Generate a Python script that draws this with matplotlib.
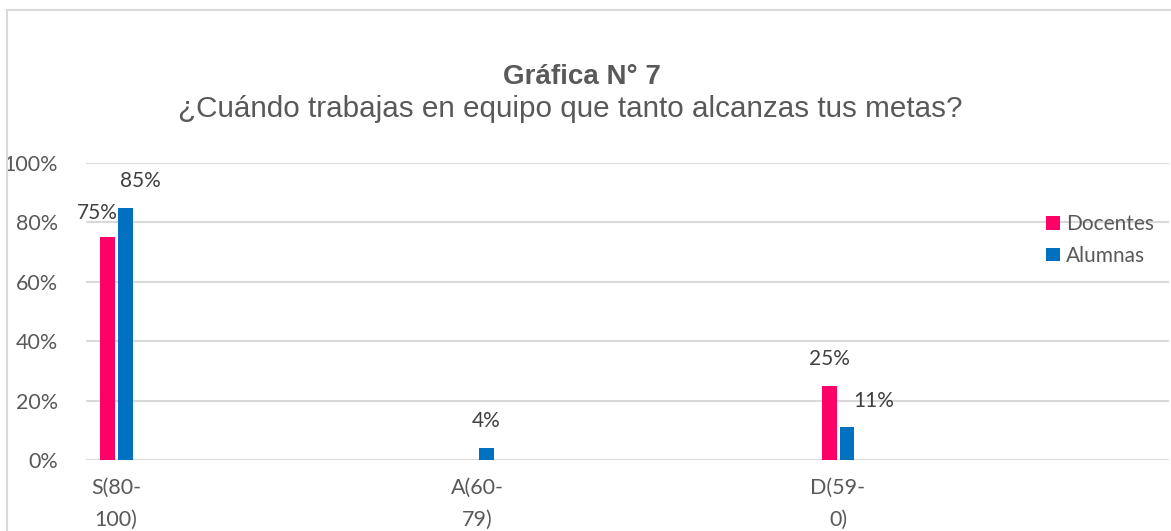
import matplotlib
matplotlib.use("Agg")
import matplotlib.pyplot as plt
import matplotlib.patches as patches
import numpy as np

categories = ["S(80-\n100)", "A(60-\n79)", "D(59-\n0)"]
docentes = [75, 0, 25]
alumnas = [85, 4, 11]
doc_labels = ["75%", None, "25%"]
alu_labels = ["85%", "4%", "11%"]

PINK = "#FF0066"
BLUE = "#0070C0"
GRAY = "#595959"
GRID = "#D9D9D9"

plt.rcParams["font.family"] = ["Lato", "DejaVu Sans"]

fig = plt.figure(figsize=(11.71, 5.31), dpi=100)
ax = fig.add_axes([86/1171, 71/531, (1169-86)/1171, (460-163)/531])

# chart border (only left/top visible in the crop)
fig.patches.append(patches.Rectangle((7/1171, -0.1), 1.2, (521/531) + 0.1,
                                     transform=fig.transFigure, fill=False,
                                     edgecolor=GRID, linewidth=1.5))

x = np.arange(len(categories))
w = 15/361
off = 9/361
b1 = ax.bar(x - off, docentes, w, color=PINK, label="Docentes", zorder=3)
b2 = ax.bar(x + off, alumnas, w, color=BLUE, label="Alumnas", zorder=3)

ax.set_xlim(-30/361, 1053/361)
ax.set_ylim(0, 100)
ax.set_yticks(range(0, 101, 20))
ax.set_yticklabels([f"{v}%" for v in range(0, 101, 20)])
ax.set_xticks(x)
ax.set_xticklabels(categories, linespacing=1.75)
ax.tick_params(axis="both", length=0, labelsize=15.5, colors=GRAY)
ax.tick_params(axis="y", pad=20)
ax.tick_params(axis="x", pad=13)
for s in ax.spines.values():
    s.set_visible(False)
ax.yaxis.grid(True, color=GRID, linewidth=1.5, zorder=0)
ax.set_axisbelow(True)

# data labels (offsets in points, like Excel nudging them)
doc_off = [(-7, 10), None, (0, 12)]
alu_off = [(11, 12), (0, 12), (19, 12)]
for i, (bar, lab) in enumerate(zip(b1, doc_labels)):
    if lab:
        ax.annotate(lab, (bar.get_x() + bar.get_width()/2, bar.get_height()),
                    xytext=doc_off[i], textcoords="offset points",
                    ha="center", va="bottom", fontsize=15, color="#404040")
for i, (bar, lab) in enumerate(zip(b2, alu_labels)):
    if lab:
        ax.annotate(lab, (bar.get_x() + bar.get_width()/2, bar.get_height()),
                    xytext=alu_off[i], textcoords="offset points",
                    ha="center", va="bottom", fontsize=15, color="#404040")

leg = ax.legend(loc="upper left", bbox_to_anchor=(1038/1171, 1 - 206/531),
                bbox_transform=fig.transFigure, frameon=False, fontsize=15,
                handlelength=0.65, handleheight=0.65, handletextpad=0.3,
                labelspacing=0.55, borderaxespad=0)
for t in leg.get_texts():
    t.set_color(GRAY)

fig.text(0.497, 1 - 77/531, "Gráfica N° 7", ha="center", va="center",
         fontsize=20, fontweight="bold", color=GRAY,
         family=["Liberation Sans", "DejaVu Sans"])
fig.text(0.487, 1 - 109/531, "¿Cuándo trabajas en equipo que tanto alcanzas tus metas?",
         ha="center", va="center", fontsize=21.3, color=GRAY,
         family=["Liberation Sans", "DejaVu Sans"])

fig.savefig("out.png", dpi=100)
